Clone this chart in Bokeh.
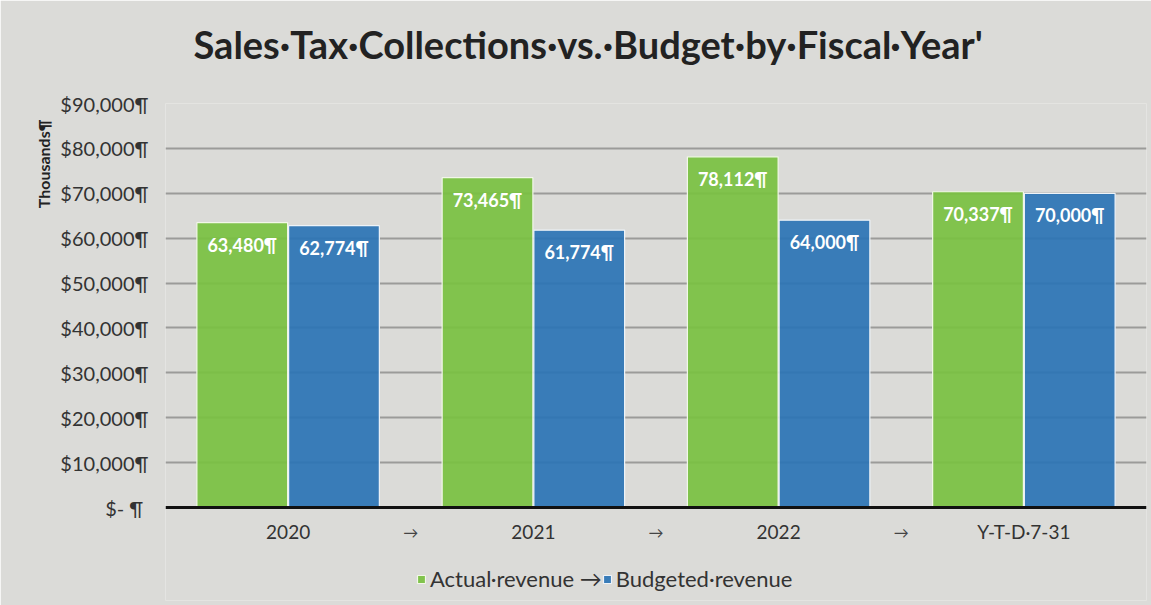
from bokeh.plotting import figure
from bokeh.models import (ColumnDataSource, Range1d, FixedTicker, Title, Legend, LegendItem, Span)
from bokeh.transform import dodge
from bokeh.embed import file_html
from bokeh.resources import INLINE
from bokeh.core.properties import value

# ---- data ----
categories = ["2020", "2021", "2022", "Y-T-D·7-31"]
actual_revenue = [63480, 73465, 78112, 70337]
budgeted_revenue = [62774, 61774, 64000, 70000]
series_names = ["Actual·revenue", "Budgeted·revenue"]
y_ticks = [0, 10000, 20000, 30000, 40000, 50000, 60000, 70000, 80000, 90000]
y_tick_labels = ["$-  ¶", "$10,000¶", "$20,000¶", "$30,000¶", "$40,000¶", "$50,000¶",
                 "$60,000¶", "$70,000¶", "$80,000¶", "$90,000¶"]
separator = "→"
title_text = "Sales·Tax·Collections·vs.·Budget·by·Fiscal·Year'"
y_title = "Thousands¶"

FONT = "Lato"
GREEN = "#7ac142"
BLUE = "#2c74b5"
BG = "#dbdbd8"
TXT = "#333333"

# ---- layout (pixels) ----
W, H = 1151, 605
LEFT, RIGHT, TOP, BOTTOM = 165, 5, 103, 5
ZERO_FROM_BOTTOM = 93          # axis baseline sits this far above the frame bottom
y_max = y_ticks[-1]
plot_px = H - TOP - BOTTOM - ZERO_FROM_BOTTOM
y_min = -ZERO_FROM_BOTTOM * y_max / plot_px

centers = [i + 0.5 for i in range(len(categories))]
src = ColumnDataSource(dict(
    xc=centers,
    actual=actual_revenue,
    budget=budgeted_revenue,
    actual_lbl=["{:,}¶".format(v) for v in actual_revenue],
    budget_lbl=["{:,}¶".format(v) for v in budgeted_revenue],
))
sep_src = ColumnDataSource(dict(x=[float(i) for i in range(1, len(categories))],
                                y=[0] * (len(categories) - 1),
                                t=[separator] * (len(categories) - 1)))
cat_src = ColumnDataSource(dict(x=centers, y=[0] * len(categories), t=categories))

p = figure(x_range=Range1d(0, len(categories)),
           y_range=Range1d(y_min, y_max),
           width=W, height=H,
           output_backend="svg", toolbar_location=None,
           min_border_left=LEFT, min_border_right=RIGHT,
           min_border_top=TOP, min_border_bottom=BOTTOM)

p.background_fill_color = BG
p.border_fill_color = BG
p.outline_line_color = None

bw = 0.37
off = 0.187
r1 = p.vbar(x=dodge("xc", -off), top="actual", width=bw, source=src,
            fill_color=GREEN, fill_alpha=0.93, line_color="#f2f7e8", line_width=1.2)
r2 = p.vbar(x=dodge("xc", off), top="budget", width=bw, source=src,
            fill_color=BLUE, fill_alpha=0.93, line_color="#eef3f8", line_width=1.2)

for col, lbl, dx in (("actual", "actual_lbl", -off), ("budget", "budget_lbl", off)):
    p.text(x=dodge("xc", dx), y=col, text=lbl, source=src,
           text_color="white", text_font=value(FONT), text_font_style="bold",
           text_font_size="18px", text_align="center", text_baseline="middle", y_offset=22)

# grid
p.xgrid.grid_line_color = None
p.ygrid.grid_line_color = "#9b9b99"
p.ygrid.grid_line_width = 2
p.ygrid.ticker = FixedTicker(ticks=y_ticks[1:])

# y axis
p.yaxis.ticker = FixedTicker(ticks=y_ticks)
p.yaxis.major_label_overrides = {t: l for t, l in zip(y_ticks, y_tick_labels)}
p.yaxis.axis_line_color = None
p.yaxis.major_tick_line_color = None
p.yaxis.minor_tick_line_color = None
p.yaxis.major_label_standoff = 11
p.yaxis.major_label_text_font = FONT
p.yaxis.major_label_text_font_size = "20px"
p.yaxis.major_label_text_color = TXT

# x axis drawn at zero: baseline + category labels + separators
p.xaxis.visible = False
p.add_layout(Span(location=0, dimension="width", line_color="#111111", line_width=3))
p.text(x="x", y="y", text="t", source=cat_src, text_font=value(FONT),
       text_font_size="19px", text_color=TXT, text_align="center",
       text_baseline="middle", y_offset=24)
p.text(x="x", y="y", text="t", source=sep_src, text_font=value(FONT),
       text_font_size="15px", text_color="#444444", text_align="center",
       text_baseline="middle", y_offset=24)

# title: a small spacer title next to the frame, the main title above it
p.title.text = ""
p.add_layout(Title(text=" ", text_font=FONT, text_font_size="12px", standoff=20), "above")
p.add_layout(Title(text=title_text, align="left", text_font=FONT, text_font_style="bold",
                   text_font_size="38px", text_color="#222222", standoff=0, offset=28),
             "above")

# y-axis title (top-aligned on the left)
p.add_layout(Title(text=y_title, align="right", text_font=FONT, text_font_style="bold",
                   text_font_size="16px", text_color="#222222", offset=16, standoff=10),
             "left")

# legend
legend = Legend(items=[LegendItem(label=series_names[0] + " " + separator, renderers=[r1]),
                       LegendItem(label=series_names[1], renderers=[r2])],
                orientation="horizontal", location=(251, 8),
                glyph_width=10, glyph_height=10, spacing=-6, label_standoff=4,
                label_text_font=FONT, label_text_font_size="22px", label_text_color=TXT,
                background_fill_alpha=0, border_line_color=None,
                margin=0, padding=2)
p.add_layout(legend)

open("out.html", "w").write(file_html(p, INLINE))
